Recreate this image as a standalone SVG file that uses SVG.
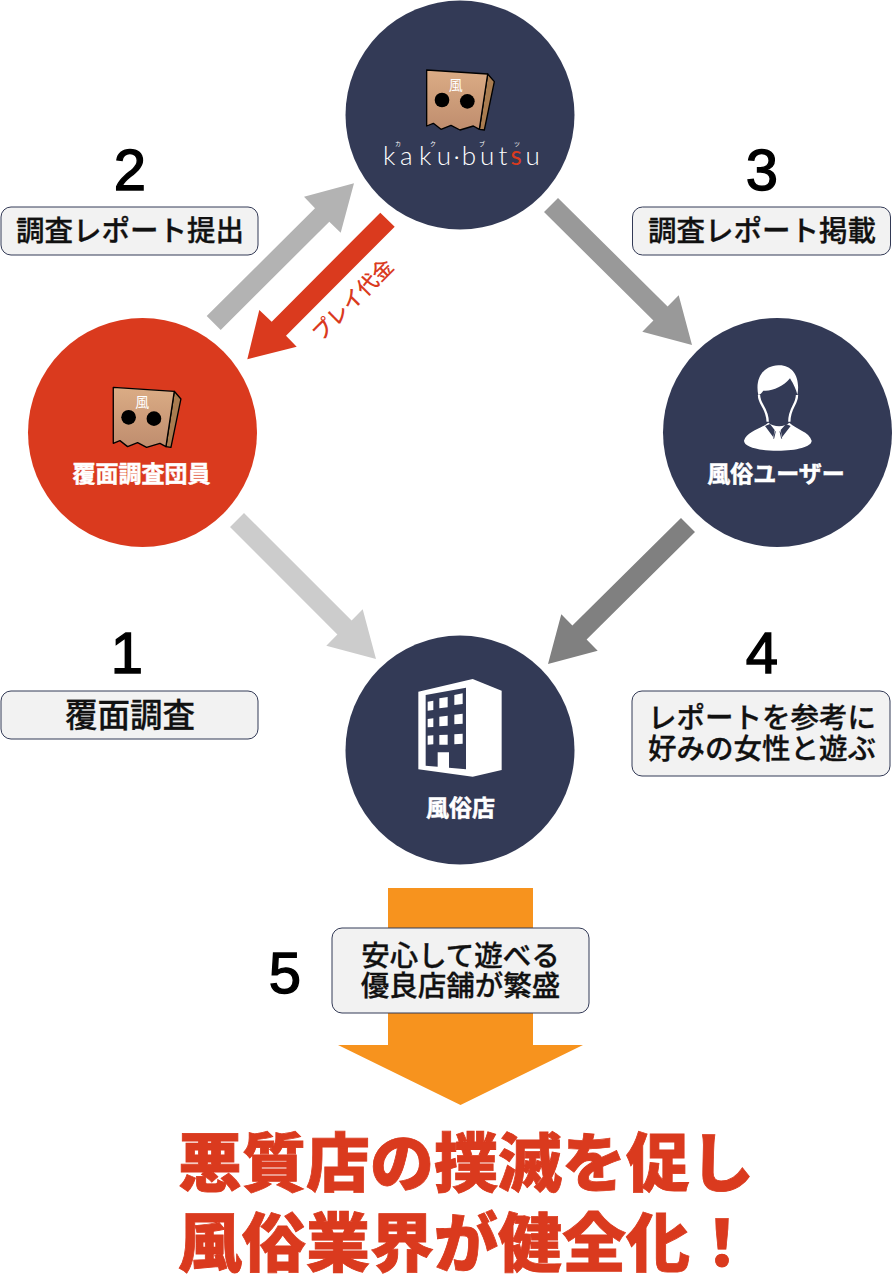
<svg xmlns="http://www.w3.org/2000/svg" width="892" height="1275" viewBox="0 0 892 1275">
<style>
text{font-family:"Noto Sans CJK JP","Noto Sans",sans-serif;text-anchor:middle}
.navy{fill:#333a56}
.red{fill:#da3a1e}
.box{fill:#f2f2f2;stroke:#333a56;stroke-width:1}
.bt{font-size:28.500px;font-weight:500;fill:#111;stroke:#111;stroke-width:.3}
.num{font-family:"Liberation Sans",Arial,sans-serif;font-size:58px;fill:#000;stroke:#000;stroke-width:1.400}
.nl{font-size:23px;font-weight:700;fill:#fff;stroke:#fff;stroke-width:.5}
.hd{font-size:64px;font-weight:900;fill:#da3a1e;stroke:#da3a1e;stroke-width:.8}
.logo{font-family:"Lato",sans-serif;font-size:26px;font-weight:300;fill:#fff;text-anchor:start}
.rb{font-size:6px;fill:#fff}
</style>
<defs>
<linearGradient id="bagg" x1="0" y1="0" x2="0" y2="1"><stop offset="0" stop-color="#dbac85"/><stop offset="1" stop-color="#bf8d6e"/></linearGradient>
<g id="bag">
<path d="M428,102L448,125L418,270L403,268Z" fill="#a97c50" stroke="#000" stroke-width="4" stroke-linejoin="round"/>
<path d="M245,90L428,102L403,268L385,258L345,270L318,256L288,268L265,250L245,258Z" fill="url(#bagg)" stroke="#000" stroke-width="4" stroke-linejoin="round"/>
<circle cx="291" cy="180" r="22" fill="#000"/><circle cx="367" cy="184" r="22" fill="#000"/>
<text x="332" y="150" font-size="42" fill="#fff">風</text>
</g>
</defs>
<g id="connectors">
<path id="arrow-1" fill="#ccc" d="M244,513L230,527L337.400,634.600L326.300,645.700L376,659L362.700,609.300L351.600,620.400Z"/>
<path id="arrow-2" fill="#b3b3b3" d="M206.700,316L220.700,330L329.300,221.700L340.700,232.700L354,183.300L304,196.700L315,208.300Z"/>
<path id="arrow-pay" fill="#da3a1e" d="M380.300,212.700L394.700,226.700L286,335.700L296.700,346.700L247.300,359.300L259.300,310L271.700,321.700Z"/>
<path id="arrow-3" fill="#999" d="M558,198L544,212L653.400,320.600L642.300,331.700L692,345L678.700,295.300L667.600,306.400Z"/>
<path id="arrow-4" fill="#808080" d="M681,518L695,532L586.600,639.600L597.700,650.700L548,664L561.300,614.300L572.400,625.400Z"/>
<path id="arrow-5" fill="#f7931e" d="M388,888H533V1045H583L460.500,1105L338,1045H388Z"/>
<text id="pay-label" transform="translate(358,305) rotate(-45)" font-size="21" font-weight="500" fill="#da3a1e">プレイ代金</text>
</g>
<g id="node-kakubutsu">
<circle class="navy" cx="460" cy="115" r="114.500"/>
<use href="#bag" transform="translate(345,40) scale(.33333)"/>
<text class="logo" y="165" x="383 400 419 436.700 453.500 461.700 480 498.500">kaku·but</text>
<text class="logo" y="165" x="510.500" style="fill:#da3a1e;font-weight:400">s</text>
<text class="logo" y="165" x="525.500">u</text>
<text class="rb" x="398" y="146">カ</text><text class="rb" x="433" y="146">ク</text><text class="rb" x="482" y="146">ブ</text><text class="rb" x="517" y="146">ツ</text>
</g>
<g id="node-member">
<circle class="red" cx="142.500" cy="432.500" r="114.500"/>
<use href="#bag" transform="translate(31.600,357.300) scale(.33333)"/>
<text class="nl" x="141.500" y="482">覆面調査団員</text>
</g>
<g id="node-user">
<circle class="navy" cx="777.500" cy="432.500" r="114.500"/>
<g transform="translate(690,350) scale(.33333)" fill="#fff">
<path d="M205,135C195,90 215,48 265,46C310,44 332,85 322,135C318,118 312,105 300,85C280,110 245,125 220,122C215,128 212,133 205,135Z"/>
<path d="M207,135C207,165 232,172 233,215M321,135C321,165 298,172 298,215" fill="none" stroke="#fff" stroke-width="7"/>
<path d="M162,272C170,245 210,238 235,218C250,232 285,232 298,218C318,238 358,245 365,272C365,290 320,302 263,302C205,302 162,290 162,272Z"/>
<path d="M225,228L240,222L254,240L250,262ZM302,228L288,222L272,240L276,262Z" class="navy"/>
<path d="M256,244L251,266M270,244L275,266" stroke="#333a56" stroke-width="3"/>
</g>
<text class="nl" x="776" y="482">風俗ユーザー</text>
</g>
<g id="node-shop">
<circle class="navy" cx="460" cy="750" r="114.500"/>
<g transform="translate(400,670) scale(.33333)">
<path fill="#fff" d="M55,65L218,27L305,62V300L218,320L55,298Z"/>
<path class="navy" d="M77,75L198,53V298L147,293V247H113V290L77,287Z"/>
<path fill="#fff" d="M83,95L100,92V120L83,122ZM118,85L143,81V112L118,115ZM163,75L188,70V102L163,105ZM83,147L100,145V171L83,172ZM118,140L143,137V167L118,169ZM163,134L188,131V161L163,163ZM83,197L100,196V223L83,224ZM118,195L143,194V224L118,224ZM163,193L188,191V221L163,223Z"/>
</g>
<text class="nl" x="460.500" y="816">風俗店</text>
</g>
<g id="step-2">
<text class="num" x="130" y="190">2</text>
<rect class="box" x="1" y="207" width="257" height="48" rx="10"/>
<text class="bt" x="130" y="241">調査レポート提出</text>
</g>
<g id="step-3">
<text class="num" x="762" y="190">3</text>
<rect class="box" x="632.500" y="207" width="258" height="48" rx="10"/>
<text class="bt" x="762" y="241">調査レポート掲載</text>
</g>
<g id="step-1">
<text class="num" x="127" y="673">1</text>
<rect class="box" x="1" y="691" width="257" height="48" rx="10"/>
<text class="bt" style="font-size:32.500px" x="130" y="727">覆面調査</text>
</g>
<g id="step-4">
<text class="num" x="762" y="673">4</text>
<rect class="box" x="632" y="691" width="258" height="85" rx="10"/>
<text class="bt" x="762" y="728">レポートを参考に</text>
<text class="bt" x="762" y="759">好みの女性と遊ぶ</text>
</g>
<g id="step-5">
<text class="num" x="285" y="993">5</text>
<rect class="box" x="332" y="928" width="257" height="85" rx="10"/>
<text class="bt" x="460.500" y="966">安心して遊べる</text>
<text class="bt" x="460.500" y="996">優良店舗が繁盛</text>
</g>
<g id="headline">
<text class="hd" x="466" y="1186">悪質店の撲滅を促し</text>
<text class="hd" x="466" y="1266">風俗業界が健全化！</text>
</g>
</svg>
